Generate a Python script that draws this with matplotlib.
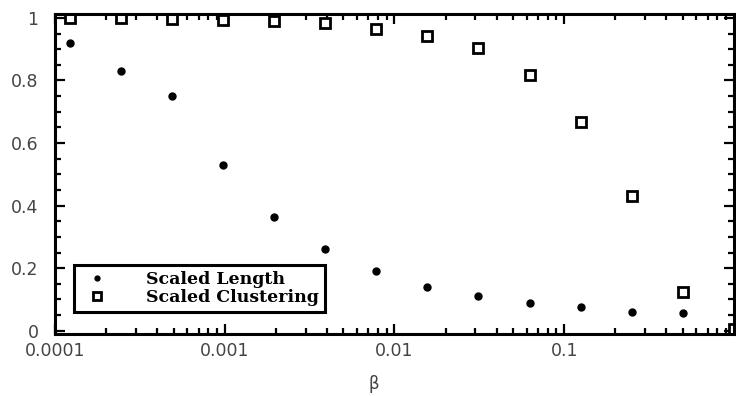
import matplotlib.pyplot as plt
from matplotlib.ticker import LogLocator, MultipleLocator, FixedFormatter, FixedLocator

import numpy as np

# rewiring probability p = 2^-13 ... 2^-1
beta = [2.0 ** k for k in range(-13, 0)]
scaled_length = [0.92, 0.83, 0.75, 0.53, 0.365, 0.26, 0.19, 0.14, 0.11, 0.087, 0.077, 0.061, 0.058]
scaled_clustering = [1.0, 1.0, 0.997, 0.994, 0.99, 0.984, 0.965, 0.942, 0.904, 0.817, 0.667, 0.43, 0.125]

# last clustering point sits on the right edge
beta_end = [1.0]
clustering_end = [0.005]

xticks = [0.0001, 0.001, 0.01, 0.1]
xtick_labels = ['0.0001', '0.001', '0.01', '0.1']
yticks = [0, 0.2, 0.4, 0.6, 0.8, 1]
ytick_labels = ['0', '0.2', '0.4', '0.6', '0.8', '1']

fig = plt.figure(figsize=(7.36, 3.96), dpi=100)
ax = fig.add_axes([0.075, 0.157, 0.922, 0.808])

ax.plot(beta, scaled_length, 'o', color='black', markersize=5, label='Scaled Length')
ax.plot(beta, scaled_clustering, 's', markerfacecolor='white', markeredgecolor='black',
        markeredgewidth=2, markersize=7.5, label='Scaled Clustering')
ax.plot(beta_end, clustering_end, 's', markerfacecolor='white', markeredgecolor='black',
        markeredgewidth=2, markersize=7.5)

ax.set_xscale('log')
ax.set_xlim(1e-4, 1.0)
ax.set_ylim(-0.01, 1.013)

ax.xaxis.set_major_locator(FixedLocator(xticks))
ax.xaxis.set_major_formatter(FixedFormatter(xtick_labels))
ax.xaxis.set_minor_locator(LogLocator(base=10, subs=np.arange(2, 10)))
ax.yaxis.set_major_locator(FixedLocator(yticks))
ax.yaxis.set_major_formatter(FixedFormatter(ytick_labels))
ax.yaxis.set_minor_locator(MultipleLocator(0.05))

ax.tick_params(which='both', direction='in', top=True, right=True, width=1.6)
ax.tick_params(which='major', length=7, labelsize=12.5, labelcolor='#444444')
ax.tick_params(axis='x', which='major', pad=6)
ax.tick_params(axis='y', which='major', pad=12)
ax.tick_params(which='minor', length=4)
ax.tick_params(axis='x', which='minor', labelbottom=False)

for side in ax.spines.values():
    side.set_linewidth(2.2)

ax.set_xlabel('β', fontsize=12, color='#444444')
ax.xaxis.set_label_coords(0.47, -0.13)

leg = ax.legend(loc='lower left', bbox_to_anchor=(0.015, 0.04), frameon=True, fancybox=False,
                edgecolor='black', framealpha=1, markerscale=0.7, handletextpad=1.8,
                borderpad=0.35, labelspacing=0.05,
                prop={'family': 'DejaVu Serif', 'weight': 'bold', 'size': 12.5})
leg.get_frame().set_linewidth(2.2)

fig.savefig('out.png', dpi=100)
